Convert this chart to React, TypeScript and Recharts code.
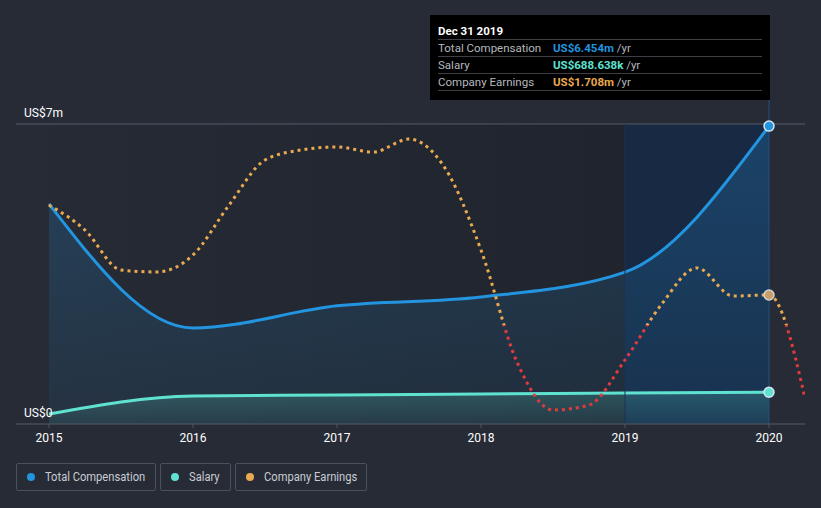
import React from 'react';
import {
  ComposedChart, Area, Line, XAxis, YAxis, CartesianGrid, ReferenceArea, ReferenceLine, ReferenceDot,
} from 'recharts';

// ---- data ----
const compYears = [2015, 2016, 2017, 2018, 2019, 2020];
const totalComp = [4.77, 2.08, 2.56, 2.75, 3.29, 6.454]; // US$ m
const salary = [0.217, 0.607, 0.63, 0.65, 0.67, 0.688638]; // US$ m
const earnQuarters = [
  2015, 2015.25, 2015.5, 2015.75, 2016, 2016.25, 2016.5, 2016.75, 2017, 2017.25, 2017.5,
  2017.75, 2018, 2018.25, 2018.5, 2018.75, 2019, 2019.25, 2019.5, 2019.75, 2020, 2020.25,
];
const earnings = [
  6.83, 5.41, 3.13, 3.02, 3.99, 6.83, 9.4, 9.97, 10.14, 9.85, 10.59,
  8.94, 4.27, -2.11, -4.84, -4.56, -1.99, 1.14, 3.25, 1.65, 1.708, -4.16,
];
const xTicks = [2015, 2016, 2017, 2018, 2019, 2020];
const yTicks = [0, 2, 4, 6, 6.5];
const yLabels = ['US$0', 'US$7m'];
const legendItems = ['Total Compensation', 'Salary', 'Company Earnings'];

const compData = compYears.map((x, i) => ({ x, v: totalComp[i] }));
const salaryData = compYears.map((x, i) => ({ x, v: salary[i] }));
const earnData = earnQuarters.map((x, i) => ({ x, v: earnings[i] }));

const BG = '#262b36';
const BLUE = '#2394df';
const TEAL = '#5fe2d0';
const ORANGE = '#e9a94f';
const RED = '#e4393d';
const FONT = 'Roboto, "Noto Sans", sans-serif';

const W = 821;
const H = 508;
const PLOT_TOP = 124;
const PLOT_BOTTOM = 424;
const EARN_DOMAIN: [number, number] = [-5.64, 11.45];
const zeroOffset = (EARN_DOMAIN[1] - 0) / (EARN_DOMAIN[1] - EARN_DOMAIN[0]);

const makeYLabel = (text: string) => (props: any) => {
  const vb = props.viewBox || {};
  return (
    <text x={24} y={(vb.y ?? 0) - 7} fill="#ffffff" fontSize={12} fontFamily={FONT} textAnchor="start">
      {text}
    </text>
  );
};

const legendColors = [BLUE, TEAL, ORANGE];
const legendBoxes = [
  { left: 16, width: 140 },
  { left: 160, width: 71 },
  { left: 235, width: 132 },
];

export default function App() {
  return (
    <div style={{ position: 'fixed', left: 0, top: 0, width: W, height: H, background: BG, fontFamily: FONT }}>
      <ComposedChart
        width={W}
        height={H}
        margin={{ top: PLOT_TOP, right: 16, bottom: 54, left: 16 }}
      >
        <defs>
          <linearGradient id="darkRegion" x1="0" y1="0" x2="1" y2="0">
            <stop offset="0%" stopColor="#101216" stopOpacity={0.05} />
            <stop offset="100%" stopColor="#101216" stopOpacity={0.55} />
          </linearGradient>
          <linearGradient id="compFill" x1="0" y1="0" x2="0" y2="1">
            <stop offset="0%" stopColor={BLUE} stopOpacity={0.4} />
            <stop offset="100%" stopColor={BLUE} stopOpacity={0.12} />
          </linearGradient>
          <linearGradient id="salFill" x1="0" y1="0" x2="0" y2="1">
            <stop offset="0%" stopColor={TEAL} stopOpacity={0.35} />
            <stop offset="100%" stopColor={TEAL} stopOpacity={0.12} />
          </linearGradient>
          <linearGradient id="earnStroke" gradientUnits="userSpaceOnUse" x1="0" y1={PLOT_TOP} x2="0" y2={PLOT_BOTTOM}>
            <stop offset={0} stopColor={ORANGE} />
            <stop offset={zeroOffset} stopColor={ORANGE} />
            <stop offset={zeroOffset} stopColor={RED} />
            <stop offset={1} stopColor={RED} />
          </linearGradient>
        </defs>
        <CartesianGrid yAxisId="comp" vertical={false} stroke="#363b47" strokeWidth={1} />
        <XAxis
          xAxisId={0}
          type="number"
          dataKey="x"
          domain={[2014.7708, 2020.25]}
          ticks={xTicks}
          allowDataOverflow
          height={30}
          axisLine={{ stroke: '#4f5461' }}
          tickLine={{ stroke: '#4f5461' }}
          tickSize={4}
          tickMargin={5}
          tick={{ fill: '#ffffff', fontSize: 12, fontFamily: FONT }}
        />
        <YAxis
          yAxisId="comp"
          type="number"
          domain={[0, 6.5]}
          ticks={yTicks}
          width={0}
          axisLine={false}
          tickLine={false}
          tick={false}
          allowDataOverflow
        />
        <YAxis yAxisId="earn" type="number" domain={EARN_DOMAIN} hide allowDataOverflow />
        <ReferenceArea yAxisId="comp" x1={2015} x2={2019} y1={0} y2={6.5} fill="url(#darkRegion)" stroke="none" ifOverflow="visible" />
        <ReferenceArea yAxisId="comp" x1={2019} x2={2020} y1={0} y2={6.5} fill="#0f2a4d" fillOpacity={0.6} stroke="none" ifOverflow="visible" />
        <ReferenceLine yAxisId="comp" y={6.5} stroke="#4f5461" strokeWidth={1} label={makeYLabel(yLabels[1])} />
        <ReferenceLine yAxisId="comp" y={0} stroke="none" label={makeYLabel(yLabels[0])} />
        <ReferenceLine yAxisId="comp" x={2019} stroke="#1d3352" strokeWidth={1} />
        <ReferenceLine
          yAxisId="comp"
          segment={[{ x: 2020, y: 0 }, { x: 2020, y: 7.02 }]}
          stroke="#24507f"
          strokeWidth={1}
          ifOverflow="visible"
        />
        <Area
          yAxisId="comp"
          data={compData}
          dataKey="v"
          type="monotone"
          stroke={BLUE}
          strokeWidth={3}
          fill="url(#compFill)"
          isAnimationActive={false}
          dot={false}
          activeDot={false}
        />
        <Area
          yAxisId="comp"
          data={salaryData}
          dataKey="v"
          type="monotone"
          stroke={TEAL}
          strokeWidth={3}
          fill="url(#salFill)"
          isAnimationActive={false}
          dot={false}
          activeDot={false}
        />
        <Line
          yAxisId="earn"
          data={earnData}
          dataKey="v"
          type="monotone"
          stroke="url(#earnStroke)"
          strokeWidth={3}
          strokeDasharray="3 4"
          isAnimationActive={false}
          dot={false}
          activeDot={false}
        />
        <ReferenceDot yAxisId="comp" x={2020} y={totalComp[5]} r={5} fill={BLUE} stroke="#d8e6f2" strokeWidth={1.5} ifOverflow="visible" />
        <ReferenceDot yAxisId="comp" x={2020} y={salary[5]} r={5} fill={TEAL} stroke="#d8e6f2" strokeWidth={1.5} ifOverflow="visible" />
        <ReferenceDot yAxisId="earn" x={2020} y={earnings[20]} r={5} fill="#c99f68" stroke="#d0d4da" strokeWidth={1.5} ifOverflow="visible" />
      </ComposedChart>

      {/* tooltip */}
      <div
        style={{
          position: 'absolute', left: 430, top: 15, width: 340, height: 85, background: '#000',
          boxSizing: 'border-box', padding: '0 8px', fontSize: 11.5, color: '#b5b8be',
        }}
      >
        <div style={{ height: 25, boxSizing: 'border-box', paddingTop: 9, lineHeight: '14px', color: '#fff', fontWeight: 700, borderBottom: '1px solid #3d3f44' }}>
          Dec 31 2019
        </div>
        {[
          ['Total Compensation', 'US$6.454m', BLUE],
          ['Salary', 'US$688.638k', TEAL],
          ['Company Earnings', 'US$1.708m', ORANGE],
        ].map(([label, val, c]) => (
          <div key={label} style={{ height: 17, boxSizing: 'border-box', lineHeight: '16px', borderBottom: '1px solid #3d3f44', display: 'flex' }}>
            <span style={{ width: 115 }}>{label}</span>
            <span>
              <span style={{ color: c, fontWeight: 700 }}>{val}</span> /yr
            </span>
          </div>
        ))}
      </div>

      {/* legend */}
      {legendItems.map((name, i) => (
        <div
          key={name}
          style={{
            position: 'absolute', left: legendBoxes[i].left, top: 463, width: legendBoxes[i].width, height: 28,
            boxSizing: 'border-box', border: '1px solid #4a505c', borderRadius: 2, display: 'flex', alignItems: 'center',
            paddingLeft: 10, fontSize: 12, color: '#c9ccd2', whiteSpace: 'nowrap',
          }}
        >
          <span style={{ width: 8, height: 8, borderRadius: 4, background: legendColors[i], marginRight: 10, flex: 'none' }} />
          <span style={{ display: 'inline-block', transform: 'scaleX(0.93)', transformOrigin: 'left center' }}>{name}</span>
        </div>
      ))}
    </div>
  );
}
